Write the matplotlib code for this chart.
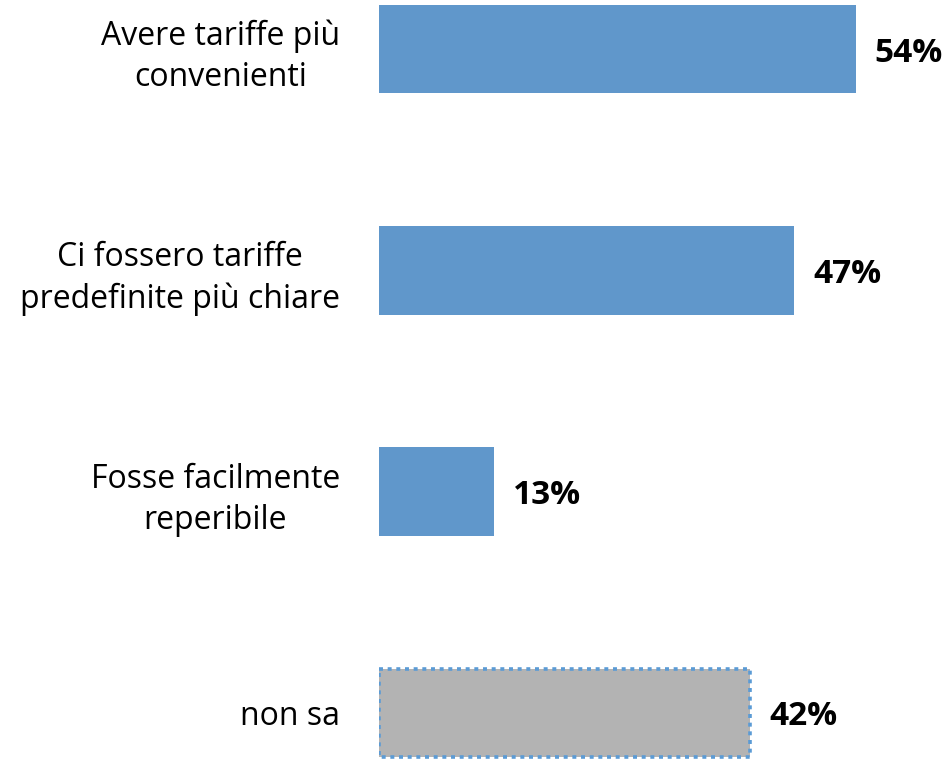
import matplotlib.pyplot as plt

categories = ['Avere tariffe più\nconvenienti',
              'Ci fossero tariffe\npredefinite più chiare',
              'Fosse facilmente\nreperibile',
              'non sa']
values = [54, 47, 13, 42]
colors = ['#6097CB', '#6097CB', '#6097CB', '#B3B3B3']

plt.rcParams['font.family'] = ['Open Sans', 'DejaVu Sans']

fig = plt.figure(figsize=(9.53, 7.59), dpi=100)
ax = fig.add_axes([379 / 953, 0, 1 - 379 / 953, 1])

pos = list(range(len(values)))
bars = ax.barh(pos, values, height=0.4, color=colors)
# the "non sa" bar has a dotted blue border
bars[3].set_edgecolor('#5B9BD5')
bars[3].set_linewidth(2.6)
bars[3].set_linestyle((0, (1.1, 1.3)))

for p, v in zip(pos, values):
    ax.annotate(f'{v}%', (v, p), xytext=(19, -4), textcoords='offset pixels',
                ha='left', va='center', fontsize=24, fontweight='bold')

ax.set_xlim(0, 65)
ax.set_ylim(3.209, -0.2226)
ax.set_yticks(pos)
ax.set_yticklabels(categories, fontsize=23, multialignment='center',
                   linespacing=1.32)
ax.tick_params(axis='y', length=0, pad=28)
ax.set_xticks([])
for s in ax.spines.values():
    s.set_visible(False)

fig.savefig('out.png', dpi=100)
